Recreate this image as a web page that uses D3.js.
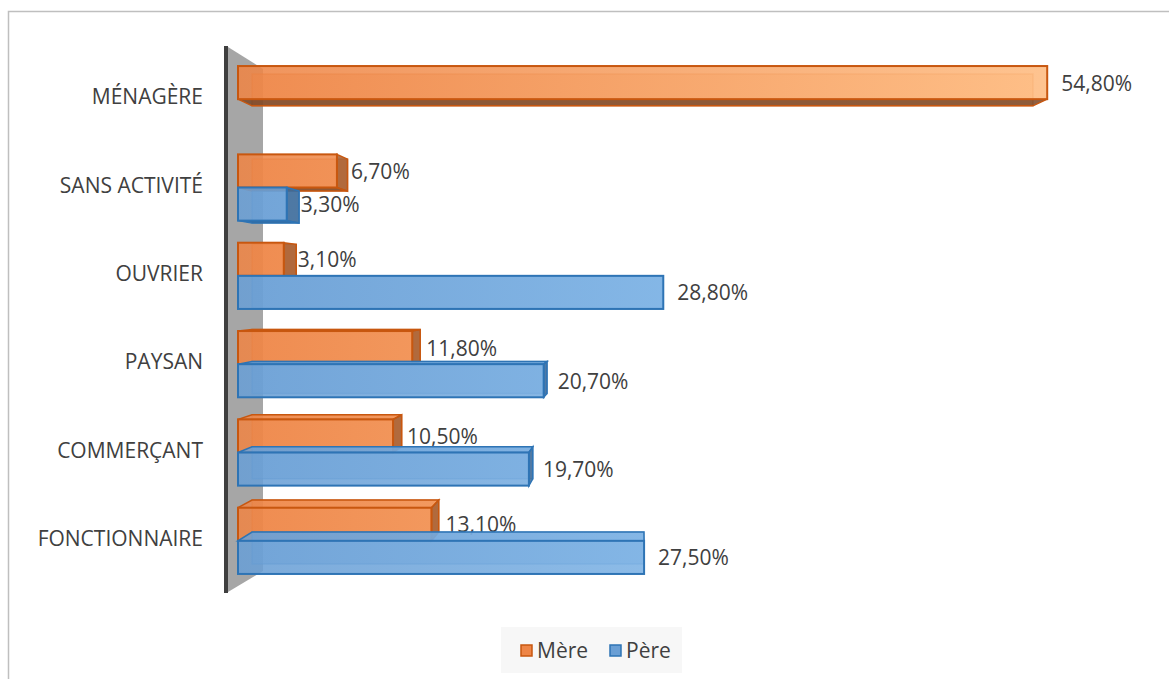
<!DOCTYPE html>
<html>
<head>
<meta charset="utf-8">
<script src="https://cdn.jsdelivr.net/npm/d3@7/dist/d3.min.js"></script>
<style>
  html, body { margin: 0; padding: 0; background: #ffffff; }
  svg { display: block; }
  text { font-family: "Open Sans", "Noto Sans", sans-serif; fill: #404040; }
</style>
</head>
<body>
<svg id="chart" width="1169" height="679"></svg>
<script>
// Professions of the parents (percent of respondents)
const categories = ["MÉNAGÈRE", "SANS ACTIVITÉ", "OUVRIER", "PAYSAN", "COMMERÇANT", "FONCTIONNAIRE"];
const seriesNames = ["Mère", "Père"];
const mereValues = [54.8, 6.7, 3.1, 11.8, 10.5, 13.1];
const pereValues = [null, 3.3, 28.8, 20.7, 19.7, 27.5];
const valueLabels = {
  "Mère": ["54,80%", "6,70%", "3,10%", "11,80%", "10,50%", "13,10%"],
  "Père": ["", "3,30%", "28,80%", "20,70%", "19,70%", "27,50%"]
};

const W = 1169, H = 679;
const svg = d3.select("#chart");

// outer chart frame
svg.append("rect")
  .attr("x", 8.5).attr("y", 11.5)
  .attr("width", W + 20).attr("height", H + 20)
  .attr("fill", "#ffffff").attr("stroke", "#bfbfbf").attr("stroke-width", 1.5);

const x = d3.scaleLinear().domain([0, 60]).range([238, 1124]);
const y = d3.scaleBand().domain(categories).range([55, 585]).paddingInner(0.25).paddingOuter(0.125);
const ySub = d3.scaleBand().domain(seriesNames).range([0, y.bandwidth()]);

const palette = {
  "Mère": { light: "#EE8546", bright: "#FEBB80", stroke: "#C8570F", side: "#A45A2C", shade: "#7A4524" },
  "Père": { light: "#6A9FD5", bright: "#8EC4F3", stroke: "#2E74B5", side: "#3D6A98", shade: "#2F527A" }
};

// horizontal gradients: longer bars get lighter toward their end
const defs = svg.append("defs");
seriesNames.forEach((s, i) => {
  const g = defs.append("linearGradient")
    .attr("id", "grad" + i)
    .attr("gradientUnits", "userSpaceOnUse")
    .attr("x1", x(0)).attr("x2", x(54.8)).attr("y1", 0).attr("y2", 0);
  g.append("stop").attr("offset", 0).attr("stop-color", palette[s].light);
  g.append("stop").attr("offset", 1).attr("stop-color", palette[s].bright);
});

// 3D side wall on the category axis
const wallTop = y.range()[0] - 8, wallBot = y.range()[1] + 7;
const wallDepth = 35;
svg.append("polygon")
  .attr("points", [
    [228, wallTop], [228 + wallDepth, wallTop + 22],
    [228 + wallDepth, wallBot - 21], [228, wallBot]
  ].map(p => p.join(",")).join(" "))
  .attr("fill", "#a6a6a6");
svg.append("rect")
  .attr("x", 224).attr("y", wallTop - 1).attr("width", 4).attr("height", wallBot - wallTop + 2)
  .attr("fill", "#3f3f3f");

// bar rows built from the arrays
const bars = [];
categories.forEach((c, i) => {
  [["Mère", mereValues[i]], ["Père", pereValues[i]]].forEach(([s, v]) => {
    if (v == null) return;
    bars.push({ cat: c, series: s, value: v, label: valueLabels[s][i] });
  });
});

// perspective: the back of each bar shrinks toward a vanishing point
const vp = [640, 290], depthScale = 0.965;
const back = ([px, py]) => [vp[0] + (px - vp[0]) * depthScale, vp[1] + (py - vp[1]) * depthScale];
const pts = a => a.map(p => p.join(",")).join(" ");

bars.forEach(b => {
  const x0 = x(0), x1 = x(b.value);
  const y0 = y(b.cat) + ySub(b.series);
  const h = ySub.bandwidth();
  const y1 = y0 + h;
  const col = palette[b.series];
  const gi = seriesNames.indexOf(b.series);
  const g = svg.append("g");

  const F = [[x0, y0], [x1, y0], [x1, y1], [x0, y1]];
  const B = F.map(back);

  // back face
  g.append("polygon")
    .attr("points", pts(B))
    .attr("fill", `url(#grad${gi})`).attr("fill-opacity", 0.55)
    .attr("stroke", col.stroke).attr("stroke-opacity", 0.45).attr("stroke-width", 1.5);

  // bottom face, visible for bars above the horizon
  if (y1 < vp[1]) {
    g.append("polygon")
      .attr("points", pts([F[3], F[2], B[2], B[3]]))
      .attr("fill", col.shade).attr("fill-opacity", 0.85)
      .attr("stroke", col.stroke).attr("stroke-width", 1.5);
  }
  // top face, visible for bars below the horizon
  if (y0 > vp[1]) {
    g.append("polygon")
      .attr("points", pts([F[0], F[1], B[1], B[0]]))
      .attr("fill", `url(#grad${gi})`).attr("fill-opacity", 0.85)
      .attr("stroke", col.stroke).attr("stroke-width", 1.5);
  }
  // right end face, visible when the end lies left of the vanishing point
  if (x1 < vp[0]) {
    g.append("polygon")
      .attr("points", pts([F[1], B[1], B[2], F[2]]))
      .attr("fill", col.side).attr("fill-opacity", 0.85)
      .attr("stroke", col.stroke).attr("stroke-width", 1.5);
  }

  // front face
  g.append("rect")
    .attr("x", x0).attr("y", y0).attr("width", x1 - x0).attr("height", h)
    .attr("fill", `url(#grad${gi})`).attr("fill-opacity", 0.88)
    .attr("stroke", col.stroke).attr("stroke-width", 2);

  // value label
  svg.append("text")
    .attr("x", x1 + 14).attr("y", y0 + h / 2)
    .attr("dominant-baseline", "central")
    .attr("font-size", 21)
    .text(b.label);
});

// category labels
svg.append("g").selectAll("text")
  .data(categories)
  .join("text")
  .attr("x", 203)
  .attr("y", d => y(d) + y.bandwidth() / 2 - 3)
  .attr("text-anchor", "end")
  .attr("dominant-baseline", "central")
  .attr("font-size", 21)
  .text(d => d);

// legend
const legend = svg.append("g");
legend.append("rect")
  .attr("x", 501).attr("y", 627).attr("width", 181).attr("height", 46)
  .attr("fill", "#f7f7f7");
const legendX = [520, 609];
seriesNames.forEach((s, i) => {
  legend.append("rect")
    .attr("x", legendX[i] + 1).attr("y", 645).attr("width", 11).attr("height", 11)
    .attr("fill", palette[s].light).attr("stroke", palette[s].stroke).attr("stroke-width", 1.5);
  legend.append("text")
    .attr("x", legendX[i] + 17).attr("y", 650)
    .attr("dominant-baseline", "central")
    .attr("font-size", 21)
    .text(s);
});
</script>
</body>
</html>
